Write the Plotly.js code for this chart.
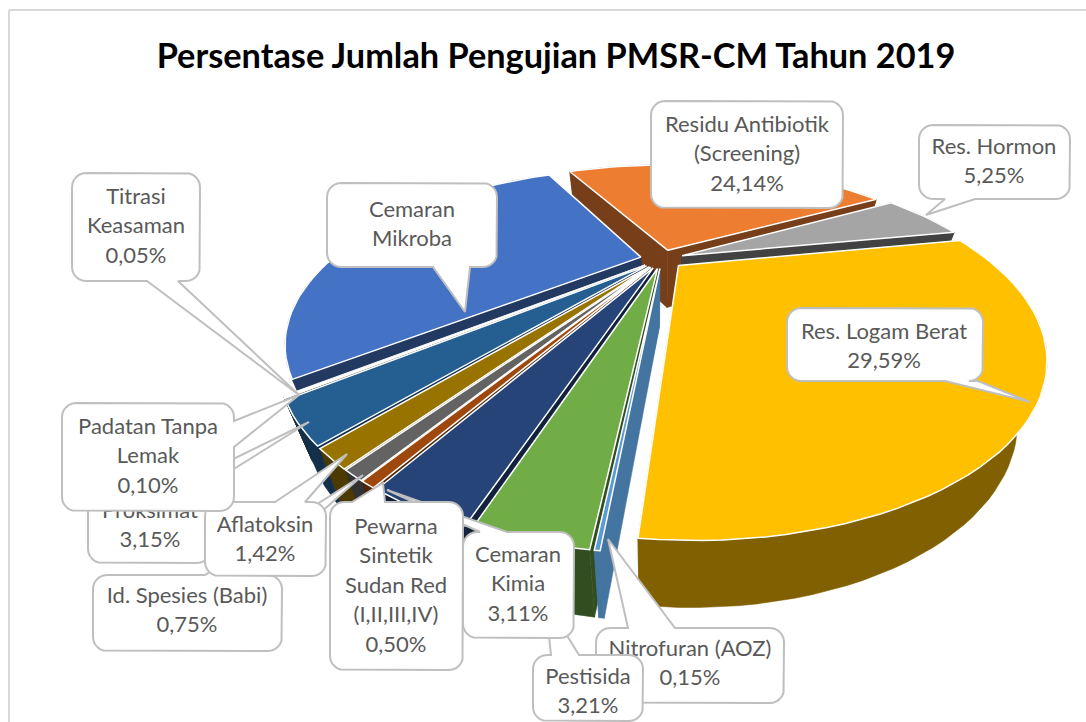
<!DOCTYPE html>
<html><head><meta charset="utf-8">
<script src="https://cdn.plot.ly/plotly-3.0.1.min.js"></script>
<style>html,body{margin:0;padding:0;background:#fff}</style></head>
<body><div id="chart" style="width:1086px;height:722px"></div>
<script>
// ---- data ----
const categories = ["Cemaran Mikroba","Residu Antibiotik (Screening)","Res. Hormon","Res. Logam Berat","Nitrofuran (AOZ)","Pestisida","Cemaran Kimia","Pewarna Sintetik Sudan Red (I,II,III,IV)","Id. Spesies (Babi)","Aflatoksin","Proksimat","Padatan Tanpa Lemak","Titrasi Keasaman"];
const percentages = [28.58,24.14,5.25,29.59,0.15,3.21,3.11,0.50,0.75,1.42,3.15,0.10,0.05];
const sliceColors = ["#4472C4","#ED7D31","#A5A5A5","#FFC000","#5B9BD5","#70AD47","#264478","#9E480E","#636363","#997300","#255E91","#43682B","#698ED0"];
const wallShade = [0.5,0.5,0.4,0.5,0.75,0.45,0.5,0.5,0.5,0.5,0.5,0.5,0.5];
const labelLines = {
  "Cemaran Mikroba":["Cemaran","Mikroba"],
  "Residu Antibiotik (Screening)":["Residu Antibiotik","(Screening)","24,14%"],
  "Res. Hormon":["Res. Hormon","5,25%"],
  "Res. Logam Berat":["Res. Logam Berat","29,59%"],
  "Nitrofuran (AOZ)":["Nitrofuran (AOZ)","0,15%"],
  "Pestisida":["Pestisida","3,21%"],
  "Cemaran Kimia":["Cemaran","Kimia","3,11%"],
  "Pewarna Sintetik Sudan Red (I,II,III,IV)":["Pewarna","Sintetik","Sudan Red","(I,II,III,IV)","0,50%"],
  "Id. Spesies (Babi)":["Id. Spesies (Babi)","0,75%"],
  "Aflatoksin":["Aflatoksin","1,42%"],
  "Proksimat":["Proksimat","3,15%"],
  "Padatan Tanpa Lemak":["Padatan Tanpa","Lemak","0,10%"],
  "Titrasi Keasaman":["Titrasi","Keasaman","0,05%"]
};
const chartTitle = "Persentase Jumlah Pengujian PMSR-CM Tahun 2019";

// ---- projection of the 3-D pie (layout only) ----
const P = {cx:662, cy:259, a:309, b:133.5, k:0.481, start:-130, explode:0.07, vx:655, shrink:0.925};
function proj(u,v){const s=1/(1+P.k*v);return [P.cx+P.a*u*s, P.cy-P.b*v*s, s];}
function drop(p){return [P.vx+(p[0]-P.vx)*P.shrink, p[1]+48+9.5*p[2]];}
function darker(hex,f){const n=parseInt(hex.slice(1),16);
  return "rgb("+[(n>>16)&255,(n>>8)&255,n&255].map(c=>Math.round(c*f)).join(",")+")";}
function poly(pts,fill,line,width){return {type:"scatter",mode:"lines",x:pts.map(p=>p[0]),y:pts.map(p=>p[1]),
  fill:"toself",fillcolor:fill,line:{color:line||fill,width:width===undefined?0.5:width},hoverinfo:"skip",showlegend:false};}

const total = percentages.reduce((a,b)=>a+b,0);
let acc = P.start, slices=[];
percentages.forEach((val,i)=>{
  const sweep = val/total*360, a0=acc, a1=acc+sweep; acc=a1;
  const mid=(a0+a1)/2*Math.PI/180, ox=P.explode*Math.sin(mid), oy=P.explode*Math.cos(mid);
  const arc=[]; const n=Math.max(2,Math.ceil(sweep/2));
  for(let j=0;j<=n;j++){const t=(a0+(a1-a0)*j/n)*Math.PI/180; arc.push(proj(ox+Math.sin(t),oy+Math.cos(t)));}
  slices.push({i,arc,apex:proj(ox,oy),depth:oy});
});
slices.sort((p,q)=>q.depth-p.depth);
const traces=[];
slices.forEach(s=>{
  const col=sliceColors[s.i], wall=darker(col,wallShade[s.i]), A=s.apex, E0=s.arc[0], E1=s.arc[s.arc.length-1];
  traces.push(poly([A,E0,drop(E0),drop(A),A],wall));
  traces.push(poly([A,E1,drop(E1),drop(A),A],wall));
  traces.push(poly(s.arc.concat(s.arc.slice().reverse().map(drop)).concat([s.arc[0]]),wall));
  traces.push(poly([A].concat(s.arc).concat([A]),col,"#FFFFFF",1.5));
});

// ---- callouts: box [x0,y0,x1,y1], tail [edge,base1,base2,tipX,tipY], first text line y, text x ----
const callouts = [
 {name:"Id. Spesies (Babi)",box:[93,575,282,651],tail:["top",205,250,363,475],tx:187,ty:597},
 {name:"Proksimat",box:[88,490,211,563],tail:["top",170,200,309,422],tx:150,ty:512},
 {name:"Aflatoksin",box:[205,502,326,576],tail:["top",275,305,347,454],tx:265,ty:526},
 {name:"Padatan Tanpa Lemak",box:[62,403,234,511],tail:["right",421,447,299,395],tx:148,ty:428},
 {name:"Titrasi Keasaman",box:[72,173,200,281],tail:["bottom",147,178,299,395],tx:136,ty:198},
 {name:"Cemaran Mikroba",box:[327,183,497,267],tail:["bottom",433,470,465,312],tx:412,ty:211},
 {name:"Residu Antibiotik (Screening)",box:[651,101,843,208],tx:747,ty:126},
 {name:"Res. Hormon",box:[919,125,1070,199],tail:["bottom",945,975,926,215],tx:994,ty:148},
 {name:"Res. Logam Berat",box:[787,308,983,381],tail:["bottom",945,978,1030,402],tx:884,ty:333},
 {name:"Nitrofuran (AOZ)",box:[596,628,784,703],tail:["top",628,675,608,539],tx:690,ty:650},
 {name:"Pestisida",box:[533,655,643,721],tail:["top",551,579,545,600],tx:588,ty:678},
 {name:"Cemaran Kimia",box:[463,532,574,638],tail:["top",480,507,387,490],tx:518,ty:556},
 {name:"Pewarna Sintetik Sudan Red (I,II,III,IV)",box:[330,502,463,670],tail:["top",352,385,383,483],tx:396,ty:528}
];
function calloutPath(c){
  const [x0,y0,x1,y1]=c.box, r=14, t=c.tail||[], pts=[];
  const corner=(cx,cy,a0)=>{for(let j=0;j<=6;j++){const a=(a0+j*15)*Math.PI/180;pts.push([cx+r*Math.cos(a),cy+r*Math.sin(a)]);}};
  corner(x0+r,y0+r,180);
  if(t[0]==="top"){pts.push([t[1],y0],[t[3],t[4]],[t[2],y0]);}
  corner(x1-r,y0+r,270);
  if(t[0]==="right"){pts.push([x1,t[1]],[t[3],t[4]],[x1,t[2]]);}
  corner(x1-r,y1-r,0);
  if(t[0]==="bottom"){pts.push([t[2],y1],[t[3],t[4]],[t[1],y1]);}
  corner(x0+r,y1-r,90);
  pts.push(pts[0]);
  return pts;
}
callouts.forEach(c=>{
  traces.push(poly(calloutPath(c),"#FFFFFF","#BFBFBF",2));
  const lines=labelLines[c.name];
  traces.push({type:"scatter",mode:"text",x:lines.map(()=>c.tx),y:lines.map((_,j)=>c.ty+j*29.6),text:lines,
    textposition:"middle center",textfont:{family:"Lato, 'Open Sans', sans-serif",size:22,color:"#595959"},
    hoverinfo:"skip",showlegend:false,cliponaxis:false});
});

const layout={
  width:1086,height:722,margin:{l:0,r:0,t:0,b:0},paper_bgcolor:"#fff",plot_bgcolor:"#fff",showlegend:false,
  xaxis:{range:[0,1086],visible:false,fixedrange:true},
  yaxis:{range:[722,0],visible:false,fixedrange:true},
  title:{text:chartTitle,x:556/1086,xanchor:"center",y:1-56/722,yanchor:"middle",
    font:{family:"Lato, 'Open Sans', sans-serif",size:34.3,color:"#000",weight:700}},
  shapes:[
    {type:"line",xref:"x",yref:"y",x0:9,y0:10,x1:1086,y1:10,line:{color:"#D9D9D9",width:2}},
    {type:"line",xref:"x",yref:"y",x0:9,y0:10,x1:9,y1:722,line:{color:"#D9D9D9",width:2}}
  ]
};
Plotly.newPlot("chart",traces,layout,{displayModeBar:false,staticPlot:true});
</script></body></html>
